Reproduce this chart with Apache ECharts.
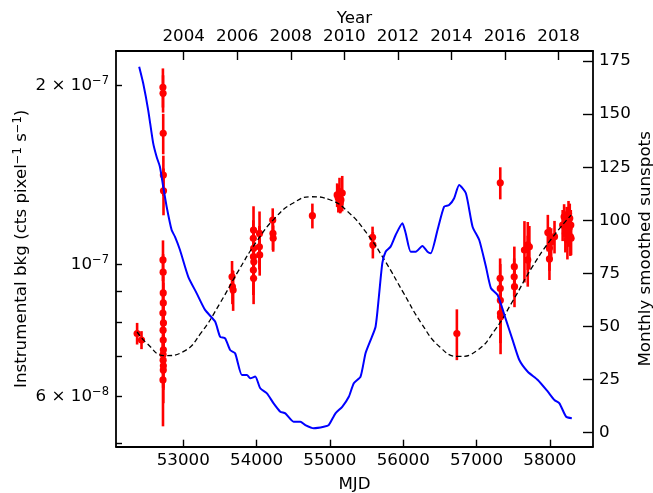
<!DOCTYPE html>
<html>
<head>
<meta charset="utf-8">
<script src="https://cdn.jsdelivr.net/npm/echarts@6/dist/echarts.min.js"></script>
<style>
  html, body { margin: 0; padding: 0; background: #fff; }
  #chart { width: 653px; height: 493px; }
</style>
</head>
<body>
<div id="chart"></div>
<script>
// sunspot curve (blue), MJD vs monthly smoothed sunspot number
var spotMjd = [52398, 52453, 52521, 52589, 52636, 52681, 52726, 52773, 52841, 52886, 52955, 53068, 53183, 53297, 53434, 53502, 53571, 53639, 53707, 53799, 53868, 53913, 53981, 54050, 54141, 54232, 54323, 54392, 54505, 54597, 54665, 54779, 54916, 54984, 55076, 55168, 55258, 55326, 55418, 55486, 55555, 55623, 55668, 55715, 55760, 55828, 55897, 55989, 56034, 56102, 56171, 56262, 56331, 56376, 56468, 56558, 56626, 56695, 56763, 56855, 56946, 57037, 57128, 57197, 57288, 57402, 57493, 57584, 57699, 57836, 57973, 58063, 58131, 58223, 58300];
var spotVal = [172.3, 164.5, 151.9, 136.3, 129.9, 125.2, 115.8, 106.4, 95.4, 92.3, 86.0, 73.4, 65.6, 57.8, 52.3, 45.2, 44.4, 38.9, 37.4, 27.2, 27.2, 25.6, 26.4, 20.9, 18.5, 13.8, 9.9, 9.1, 5.2, 5.2, 3.6, 2.1, 2.8, 3.6, 9.1, 12.2, 16.9, 23.3, 26.4, 37.4, 43.6, 49.9, 64.0, 79.8, 85.2, 87.6, 93.1, 98.6, 93.9, 85.2, 85.2, 87.9, 85.2, 84.5, 95.4, 106.4, 107.2, 110.4, 116.6, 112.7, 97.0, 90.7, 78.2, 68.0, 64.8, 53.1, 43.6, 34.2, 28.7, 24.8, 19.3, 15.4, 13.8, 7.5, 6.8];

// dashed model curve
var modelMjd = [52370, 52500, 52750, 53000, 53250, 53500, 53750, 54000, 54250, 54500, 54750, 55000, 55250, 55500, 55750, 56000, 56250, 56500, 56750, 57000, 57250, 57500, 57750, 58000, 58290];
var modelVal = [7.7e-8, 7.37e-8, 7.02e-8, 7.13e-8, 7.69e-8, 8.6e-8, 9.74e-8, 10.92e-8, 11.96e-8, 12.68e-8, 12.99e-8, 12.84e-8, 12.24e-8, 11.29e-8, 10.14e-8, 8.97e-8, 7.95e-8, 7.26e-8, 7.0e-8, 7.15e-8, 7.75e-8, 8.7e-8, 9.85e-8, 10.95e-8, 12.1e-8];

// instrumental background measurements (units of 1e-8)
var bkgMjd = [52370, 52430,
  52722, 52724, 52726, 52728, 52730,
  52723, 52725, 52727, 52722, 52729, 52724, 52726, 52728, 52725, 52727, 52723, 52726, 52724, 52728,
  53665, 53670, 53680,
  53958, 53955, 53960, 53957, 53962, 53956, 53959, 54040, 54038, 54042,
  54220, 54223, 54226,
  54761,
  55099, 55115, 55131, 55150, 55168, 55140,
  55582, 55586,
  56732,
  57324, 57322, 57324, 57326, 57328, 57325,
  57516, 57514, 57518,
  57654, 57699, 57699, 57721,
  57973, 57995, 57995, 58064, 58018,
  58175, 58195, 58212, 58230, 58240, 58255, 58262, 58272, 58280, 58286, 58290];
var bkgVal = [7.65, 7.46,
  19.85, 19.39, 16.61, 14.13, 13.29,
  10.17, 9.70, 8.61, 8.28, 7.97, 7.75, 7.46, 7.18, 6.90, 6.64, 6.39, 8.95, 7.05, 6.75,
  9.53, 9.17, 9.05,
  11.42, 11.06, 10.64, 10.30, 10.10, 9.78, 9.47, 11.27, 10.70, 10.37,
  11.87, 11.27, 11.06,
  12.07,
  13.08, 12.92, 13.18, 12.83, 13.18, 12.68,
  11.10, 10.78,
  7.65,
  13.71, 9.47, 9.11, 8.27, 8.16, 8.70,
  9.91, 9.53, 9.17,
  10.57, 10.78, 10.17, 10.70,
  11.31, 10.65, 10.21, 11.13, 10.90,
  11.64, 12.02, 11.27, 11.79, 10.99, 12.18, 11.50, 11.95, 11.13, 11.64, 11.06];
var bkgErr = [0.32, 0.26,
  1.5, 1.4, 1.3, 1.1, 1.2,
  0.8, 0.7, 0.7, 0.6, 0.7, 0.6, 0.7, 0.6, 0.7, 0.8, 1.05, 0.6, 0.5, 0.6,
  0.6, 0.6, 0.7,
  1.1, 0.8, 0.8, 0.8, 0.7, 0.9, 0.9, 1.0, 0.9, 0.8,
  0.55, 0.7, 0.56,
  0.58,
  0.6, 0.7, 0.8, 0.6, 0.9, 0.5,
  0.47, 0.55,
  0.75,
  0.85, 0.76, 0.9, 0.9, 1.1, 0.8,
  0.8, 0.7, 0.7,
  1.25, 1.0, 1.0, 0.9,
  0.8, 0.9, 0.8, 0.7, 0.6,
  0.7, 0.6, 0.8, 0.7, 0.8, 0.6, 0.8, 0.7, 0.8, 0.7, 0.7];

var mjdTicks = [53000, 54000, 55000, 56000, 57000, 58000];
var yearTicks = [2004, 2006, 2008, 2010, 2012, 2014, 2016, 2018];
var bkgLabelTicks = [6e-8, 1e-7, 2e-7];
var bkgTicks = [5e-8, 6e-8, 7e-8, 8e-8, 9e-8, 1e-7, 2e-7];
var spotTicks = [0, 25, 50, 75, 100, 125, 150, 175];

// MJD of 1 January of a given year
function yearToMjd(y) {
  return Math.round(51544 + (y - 2000) * 365.25 + (y > 2000 ? 0.75 : 0) - 0.75);
}
var yearMjd = yearTicks.map(yearToMjd);

var FONT = 'DejaVu Sans';
var FS = 16.7;
var XMIN = 52082, XMAX = 58589;

var errData = bkgMjd.map(function (m, i) {
  return [m, bkgVal[i] * 1e-8, bkgErr[i] * 1e-8];
});

function supLabel(v) {
  var e = Math.floor(Math.log10(v) + 1e-9);
  var m = Math.round(v / Math.pow(10, e));
  var exp = '{s|\u2212' + (-e) + '}';
  return m === 1 ? '10' + exp : m + ' \u00d7 10' + exp;
}

var chart = echarts.init(document.getElementById('chart'), null, { renderer: 'canvas' });

chart.setOption({
  backgroundColor: '#ffffff',
  animation: false,
  textStyle: { fontFamily: FONT },
  grid: { left: 116, right: 60, top: 51, bottom: 46.3, containLabel: false, outerBoundsMode: 'none' },
  xAxis: [
    {
      type: 'value',
      position: 'bottom',
      min: XMIN,
      max: XMAX,
      name: 'MJD',
      nameLocation: 'middle',
      nameGap: 29,
      nameMoveOverlap: false,
      nameTextStyle: { color: '#000', fontSize: FS, fontFamily: FONT },
      axisLine: { show: true, onZero: false, lineStyle: { color: '#000', width: 1.8 } },
      axisTick: { show: true, inside: true, length: 7, customValues: mjdTicks, lineStyle: { color: '#000', width: 1.4 } },
      axisLabel: {
        color: '#000', fontSize: FS, fontFamily: FONT, margin: 5, customValues: mjdTicks,
        formatter: function (v) { return String(v); }
      },
      splitLine: { show: false }
    },
    {
      type: 'value',
      position: 'top',
      min: XMIN,
      max: XMAX,
      name: 'Year',
      nameLocation: 'middle',
      nameGap: 24,
      nameMoveOverlap: false,
      nameTextStyle: { color: '#000', fontSize: FS, fontFamily: FONT },
      axisLine: { show: true, onZero: false, lineStyle: { color: '#000', width: 1.8 } },
      axisTick: { show: true, inside: true, length: 9, customValues: yearMjd, lineStyle: { color: '#000', width: 1.4 } },
      axisLabel: {
        color: '#000', fontSize: FS, fontFamily: FONT, margin: 6, customValues: yearMjd,
        formatter: function (v) { return String(Math.round(2000 + (v - 51544) / 365.25)); }
      },
      splitLine: { show: false }
    }
  ],
  yAxis: [
    {
      type: 'log',
      logBase: 10,
      min: 4.935e-8,
      max: 2.284e-7,
      position: 'left',
      name: 'Instrumental bkg (cts pixel{s|\u22121} s{s|\u22121})',
      nameLocation: 'middle',
      nameRotate: 90,
      nameGap: 84,
      nameMoveOverlap: false,
      nameTextStyle: {
        color: '#000', fontSize: FS, fontFamily: FONT,
        rich: { s: { fontSize: 11.5, fontFamily: FONT, color: '#000', verticalAlign: 'top', padding: [0, 0, 8, 0] } }
      },
      axisLine: { show: true, onZero: false, lineStyle: { color: '#000', width: 1.8 } },
      axisTick: { show: true, inside: true, length: 6, customValues: bkgTicks, lineStyle: { color: '#000', width: 1.4 } },
      axisLabel: {
        color: '#000', fontSize: FS, fontFamily: FONT, margin: 7, customValues: bkgLabelTicks,
        formatter: supLabel,
        rich: { s: { fontSize: 11.5, fontFamily: FONT, color: '#000', verticalAlign: 'top', padding: [0, 0, 8, 0] } }
      },
      splitLine: { show: false }
    },
    {
      type: 'value',
      min: -6.6,
      max: 179.7,
      position: 'right',
      name: 'Monthly smoothed sunspots',
      nameLocation: 'middle',
      nameRotate: 90,
      nameGap: 44,
      nameMoveOverlap: false,
      nameTextStyle: { color: '#000', fontSize: FS, fontFamily: FONT },
      axisLine: { show: true, onZero: false, lineStyle: { color: '#000', width: 1.8 } },
      axisTick: { show: true, inside: true, length: 10, customValues: spotTicks, lineStyle: { color: '#000', width: 1.4 } },
      axisLabel: { color: '#000', fontSize: FS, fontFamily: FONT, margin: 6, customValues: spotTicks },
      splitLine: { show: false }
    }
  ],
  series: [
    {
      name: 'bkg',
      type: 'custom',
      xAxisIndex: 0,
      yAxisIndex: 0,
      z: 2,
      data: errData,
      encode: { x: 0, y: 1 },
      renderItem: function (params, api) {
        var x = api.value(0), y = api.value(1), e = api.value(2);
        var p = api.coord([x, y]);
        var hi = api.coord([x, y + e]);
        var lo = api.coord([x, y - e]);
        return {
          type: 'group',
          children: [
            { type: 'line', shape: { x1: p[0], y1: hi[1], x2: p[0], y2: lo[1] }, style: { stroke: '#ff0000', lineWidth: 2.6 } },
            { type: 'circle', shape: { cx: p[0], cy: p[1], r: 3.6 }, style: { fill: '#ff0000' } }
          ]
        };
      }
    },
    {
      name: 'model',
      type: 'line',
      xAxisIndex: 0,
      yAxisIndex: 0,
      z: 3,
      smooth: 0.5,
      showSymbol: false,
      data: modelMjd.map(function (m, i) { return [m, modelVal[i]]; }),
      lineStyle: { color: '#000', width: 1.3, type: [5, 3] }
    },
    {
      name: 'sunspots',
      type: 'line',
      xAxisIndex: 0,
      yAxisIndex: 1,
      z: 4,
      smooth: 0.2,
      showSymbol: false,
      data: spotMjd.map(function (m, i) { return [m, spotVal[i]]; }),
      lineStyle: { color: '#0000ff', width: 2 }
    }
  ]
});
</script>
</body>
</html>
